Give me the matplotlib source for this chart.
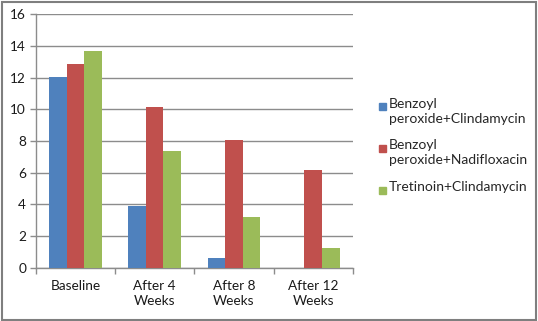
import numpy as np
import matplotlib.pyplot as plt
from matplotlib.patches import Rectangle

categories = ['Baseline', 'After 4\nWeeks', 'After 8\nWeeks', 'After 12\nWeeks']
series_names = ['Benzoyl\nperoxide+Clindamycin',
                'Benzoyl\nperoxide+Nadifloxacin',
                'Tretinoin+Clindamycin']
bpo_clinda = [12.05, 3.9, 0.6, 0.0]
bpo_nadi = [12.9, 10.15, 8.08, 6.2]
tret_clinda = [13.7, 7.4, 3.22, 1.27]
colors = ['#4F81BD', '#C0504D', '#9BBB59']

plt.rcParams['font.family'] = ['Lato', 'DejaVu Sans']

fig = plt.figure(figsize=(5.38, 3.21), dpi=100)
ax = fig.add_axes([0.0664, 0.166, 0.5896, 0.789])

x = np.arange(len(categories))
w = 0.222
for k, (vals, c) in enumerate(zip([bpo_clinda, bpo_nadi, tret_clinda], colors)):
    ax.bar(x + (k - 1) * w, vals, width=w, color=c, zorder=3)

ax.set_xlim(-0.5, len(categories) - 0.5)
ax.set_ylim(0, 16)
ax.set_yticks(np.arange(0, 17, 2))
ax.grid(axis='y', color='#8c8c8c', linewidth=1.0, zorder=0)
ax.set_axisbelow(True)

# group boundaries as major ticks, labels on minor ticks
ax.set_xticks(np.arange(-0.5, len(categories), 1.0))
ax.set_xticklabels([])
ax.set_xticks(x, minor=True)
ax.set_xticklabels(categories, minor=True, fontsize=9.8, color='#1a1a1a',
                   linespacing=1.25)
ax.tick_params(axis='x', which='minor', length=0, pad=9)
ax.tick_params(axis='x', which='major', length=4, color='#8c8c8c', width=1)
ax.tick_params(axis='y', length=4, color='#8c8c8c', width=1, labelsize=9.8,
               labelcolor='#1a1a1a', pad=3)

for s in ['top', 'right']:
    ax.spines[s].set_visible(False)
for s in ['left', 'bottom']:
    ax.spines[s].set_color('#8c8c8c')
    ax.spines[s].set_linewidth(1.0)

# legend drawn by hand so the marker sits on the first line
ys = [107, 148, 190]
for name, c, yp in zip(series_names, colors, ys):
    fy = 1 - yp / 321
    fig.patches.append(Rectangle((379 / 538, fy - 3.5 / 321), 7 / 538, 7 / 321,
                                 transform=fig.transFigure, color=c))
    fig.text(389 / 538, fy + 9 / 321, name, ha='left', va='top', fontsize=10,
             color='#262626', linespacing=1.3)

fig.patches.append(Rectangle((1.5 / 538, 1.5 / 321), 534 / 538, 318 / 321,
                             transform=fig.transFigure, fill=False,
                             edgecolor='#7f7f7f', linewidth=1.5))

fig.savefig('out.png', dpi=100)
